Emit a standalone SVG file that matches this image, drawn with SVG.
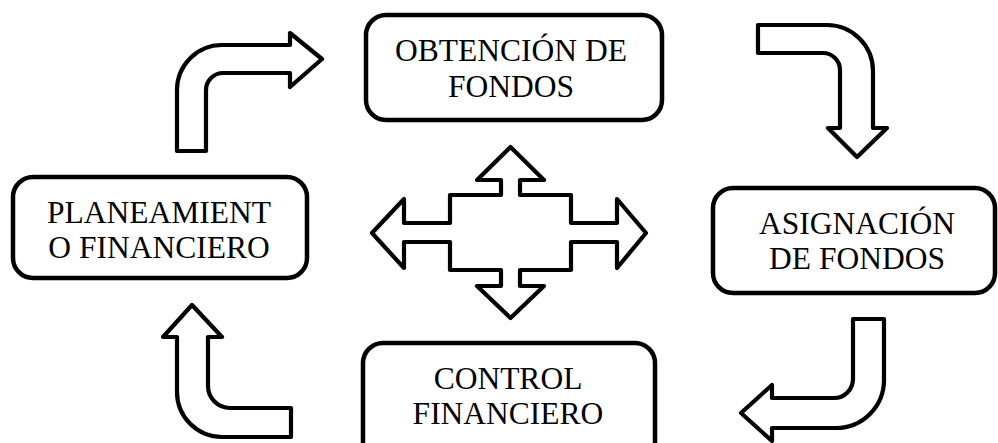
<svg xmlns="http://www.w3.org/2000/svg" width="998" height="443" viewBox="0 0 998 443">
<style>
.box{fill:#fff;stroke:#000;stroke-width:4.5}
.arr{fill:#fff;stroke:#000;stroke-width:4.2;stroke-linejoin:round}
.t{font-family:"Liberation Serif","Times New Roman",serif;font-size:31.5px;fill:#000;text-anchor:middle}
</style>
<rect width="998" height="443" fill="#fff"/>
<g id="connectors">
<path class="arr" d="M177,151 L177,90 A45,45 0 0 1 222,45 L290,45 L290,33 L322,59 L290,87 L290,73 L223,73 A17,17 0 0 0 206,90 L206,151 Z"/>
<path class="arr" d="M758,25 L827,25 A46,46 0 0 1 873,71 L873,128 L887,128 L857,157 L828,128 L840,128 L840,70 A17,17 0 0 0 823,53 L758,53 Z"/>
<path class="arr" d="M853,319 L884,319 L884,380 A48,48 0 0 1 836,428 L772,428 L772,441 L741,413 L772,385 L772,398 L834,398 A19,19 0 0 0 853,379 Z"/>
<path class="arr" d="M192,305 L222,337 L208,337 L208,386 A22,22 0 0 0 230,408 L291,408 L291,437 L222,437 A45,45 0 0 1 177,392 L177,337 L163,337 Z"/>
<path class="arr" d="M372,233 L404,199 L404,223 L450,223 L450,195 L501,195 L501,180 L477,180 L510.5,147 L544,180 L520,180 L520,195 L571,195 L571,223 L617,223 L617,199 L646,233 L617,268 L617,242 L571,242 L571,270 L520,270 L520,286 L544,286 L510.5,318 L477,286 L501,286 L501,270 L450,270 L450,242 L404,242 L404,268 Z"/>
</g>
<g id="planeamiento">
<rect class="box" x="13" y="177" width="294" height="101" rx="20"/>
<text class="t" x="159" y="223">PLANEAMIENT</text>
<text class="t" x="159" y="258">O FINANCIERO</text>
</g>
<g id="obtencion">
<rect class="box" x="366" y="15" width="296" height="105" rx="20"/>
<text class="t" x="511" y="61">OBTENCIÓN DE</text>
<text class="t" x="511" y="97">FONDOS</text>
</g>
<g id="asignacion">
<rect class="box" x="713" y="188" width="282" height="105" rx="20"/>
<text class="t" x="857" y="234">ASIGNACIÓN</text>
<text class="t" x="857" y="269">DE FONDOS</text>
</g>
<g id="control">
<rect class="box" x="363" y="343" width="292" height="120" rx="20"/>
<text class="t" x="508" y="389">CONTROL</text>
<text class="t" x="508" y="424">FINANCIERO</text>
</g>
</svg>
